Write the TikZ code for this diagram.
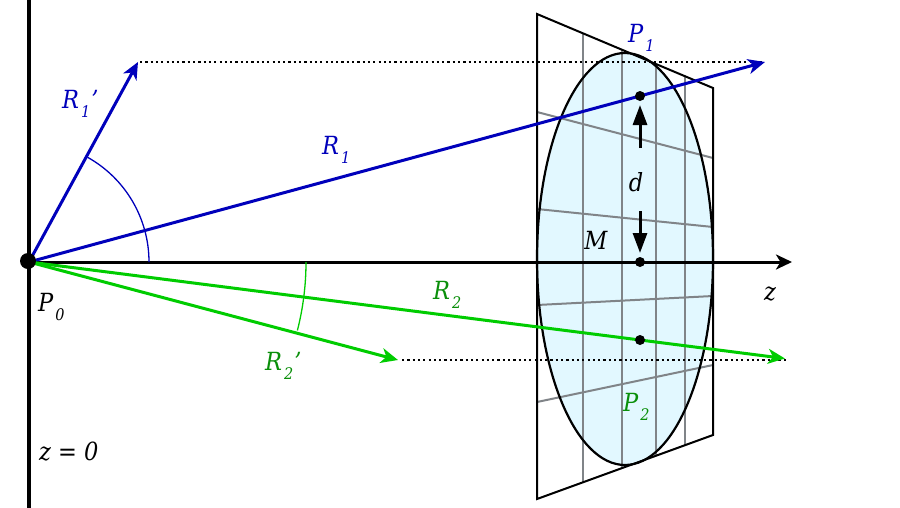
\documentclass[tikz,border=0pt]{standalone}
\usepackage{fontspec}
\setmainfont{DejaVu Serif Condensed}
\usetikzlibrary{arrows.meta}
\definecolor{rayblue}{HTML}{0000BB}
\definecolor{raygreen}{HTML}{00CC00}
\definecolor{labgreen}{HTML}{0A8F0A}
\definecolor{gridgray}{HTML}{808488}
\definecolor{lens}{HTML}{E2F8FF}
\tikzset{
  x=1pt,y=-1pt,
  head/.style={-{Stealth[length=17pt,width=15pt,inset=5pt]}},
  ray/.style={line width=3pt,head},
  gridline/.style={gridgray,line width=2pt},
  guide/.style={black,line width=2.3pt,dash pattern=on 2.2pt off 3.1pt},
  lab/.style={inner sep=0pt,font=\fontsize{25}{28}\selectfont\itshape},
  mark dot/.style={circle,fill=black,inner sep=0pt,minimum size=10pt},
  arc line/.style={line width=1.3pt},
}
\newcommand{\subs}[1]{\kern2pt\smash{\raisebox{-9pt}{\fontsize{16}{18}\selectfont\itshape #1}}}
\begin{document}
\begin{tikzpicture}
\useasboundingbox (0,0) rectangle (900,507);
\fill[white] (0,0) rectangle (900,507);
% lens
\fill[lens] (625,259) ellipse [x radius=88,y radius=206];
% grid
\foreach \xx/\a/\b in {583/33.3/482.3,622/49.7/468.1,656/64/455.7,685/76.2/445.2}
  \draw[gridline] (\xx,\a) -- (\xx,\b);
\draw[gridline] (537,112) -- (713,158);
\draw[gridline] (537,209) -- (713,227);
\draw[gridline] (537,305) -- (713,296);
\draw[gridline] (537,402) -- (713,365);
% outline
\draw[black,line width=2pt,line join=miter] (537,14) -- (713,88) -- (713,435) -- (537,499) -- cycle;
\draw[black,line width=2.2pt] (625,259) ellipse [x radius=88,y radius=206];
% guides
\coordinate (q1) at (140,62); \coordinate (p1) at (765,62);
\coordinate (q2) at (402,360); \coordinate (p2) at (786,360);
\draw[guide] (q1) -- (p1);
\draw[guide] (q2) -- (p2);
% axes
\coordinate (top) at (29,-2); \coordinate (bot) at (29,509);
\coordinate (o) at (29,262); \coordinate (zend) at (792,262);
\draw[line width=4.4pt] (top) -- (bot);
\draw[line width=3pt,-{Stealth[length=16pt,width=15pt,inset=4.5pt]}] (o) -- (zend);
% arcs
\draw[rayblue,arc line] (149,262) arc[start angle=0,end angle=-60.8,radius=120];
\draw[raygreen,arc line] (306,262) arc[start angle=0,end angle=14.3,radius=277];
% rays
\coordinate (r1t) at (138,62); \coordinate (r2t) at (398,360);
\draw[rayblue,ray] (o) -- (r1t);
\draw[rayblue,ray] (o) -- (p1);
\draw[raygreen,ray] (o) -- (r2t);
\draw[raygreen,ray] (o) -- (785,358.5);
% points
\node[circle,fill=black,inner sep=0pt,minimum size=16pt] (P0) at (28,261) {};
\node[mark dot] (a) at (640,96) {};
\node[mark dot] (m) at (640,262) {};
\node[mark dot] (b) at (640,340) {};
% d arrows
\coordinate (d1) at (640,148); \coordinate (d2) at (640,211);
\draw[line width=3pt,-{Stealth[length=20pt,width=14pt,inset=0pt]}] (d1) -- (640,105);
\draw[line width=3pt,-{Stealth[length=20pt,width=14pt,inset=0pt]}] (d2) -- (640,253);
% labels
\node[lab,rayblue,anchor=west] (lR1p) at (62,99) {R\subs{1}\kern1pt’};
\node[lab,rayblue,anchor=west] (lR1) at (322,145) {R\subs{1}};
\node[lab,rayblue,anchor=west] (lP1) at (628,33) {P\subs{1}};
\node[lab,labgreen,anchor=west] (lR2) at (433,290) {R\subs{2}};
\node[lab,labgreen,anchor=west] (lR2p) at (265,361) {R\subs{2}\kern1pt’};
\node[lab,labgreen,anchor=west] (lP2) at (623,402) {P\subs{2}};
\node[lab,anchor=west] (lP0) at (38,302) {P\subs{0}};
\node[lab] (ld) at (636,182) {d};
\node[lab] (lM) at (596,240) {M};
\node[lab] (lz) at (770,294) {z};
\node[lab,anchor=west] (lz0) at (39,452) {z = 0};
\end{tikzpicture}
\end{document}
